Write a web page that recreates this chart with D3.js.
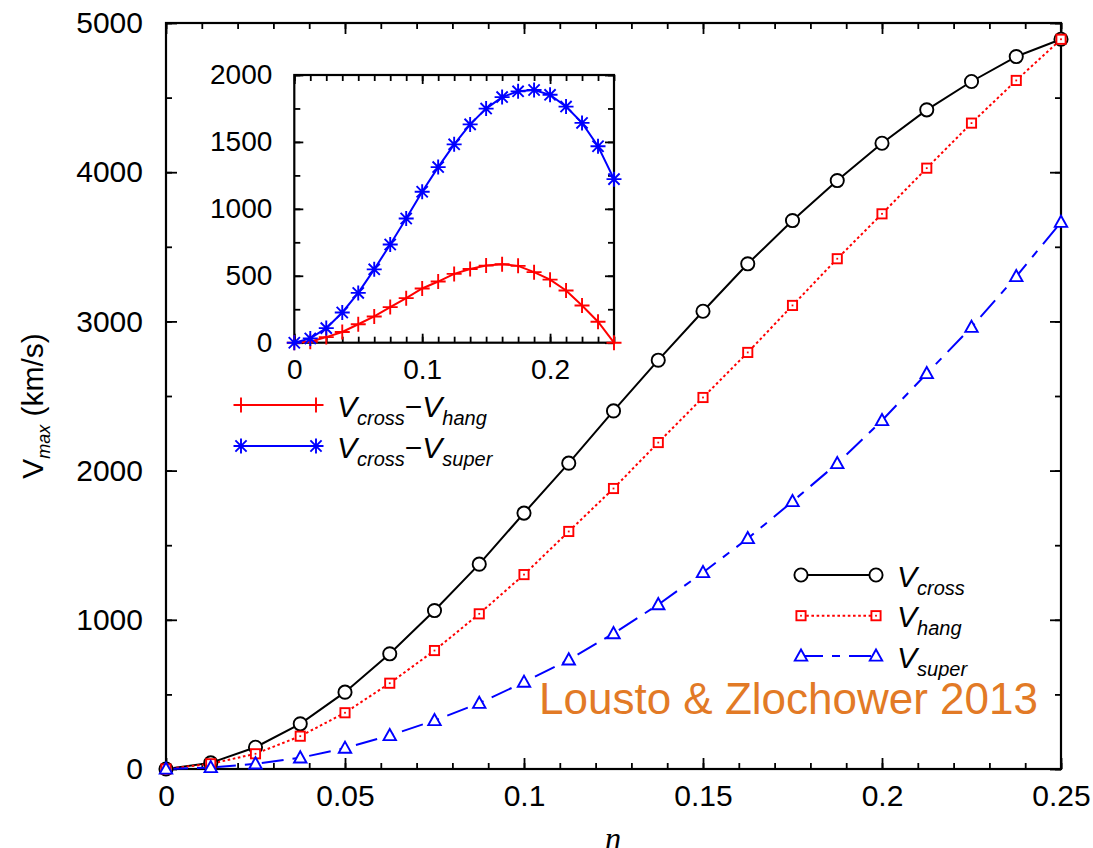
<!DOCTYPE html>
<html>
<head>
<meta charset="utf-8">
<script src="https://cdn.jsdelivr.net/npm/d3@7/dist/d3.min.js"></script>
<style>
  html, body { margin: 0; padding: 0; background: #fff; }
  svg { display: block; font-family: "Liberation Sans", Arial, Helvetica, sans-serif; }
</style>
</head>
<body>
<svg id="chart" width="1093" height="848"></svg>
<script>
// Mass ratio eta for every evaluated configuration
const eta = [0, 0.0125, 0.025, 0.0375, 0.05, 0.0625, 0.075, 0.0875, 0.1, 0.1125, 0.125,
             0.1375, 0.15, 0.1625, 0.175, 0.1875, 0.2, 0.2125, 0.225, 0.2375, 0.25];

// Maximum recoil (km/s) for the three spin configurations
const vCross = [0, 41, 146, 303, 515, 772, 1062, 1373, 1715, 2050, 2400,
                2740, 3068, 3386, 3676, 3944, 4194, 4418, 4608, 4775, 4891];
const vHang  = [0, 35, 102, 220, 377, 575, 794, 1040, 1303, 1592, 1880,
                2188, 2490, 2792, 3107, 3420, 3721, 4027, 4329, 4615, 4891];
const vSuper = [0, 10, 35, 75, 140, 225, 325, 441, 582, 732, 908,
                1102, 1317, 1545, 1793, 2048, 2336, 2651, 2961, 3301, 3665];

// Differences shown in the inset
const dCrossHang  = [0, 7, 42, 80, 138, 196, 266, 333, 405, 457, 514,
                     551, 576, 586, 574, 527, 471, 390, 278, 157, 0];
const dCrossSuper = [0, 32, 109, 226, 372, 548, 734, 928, 1128, 1312, 1482,
                     1631, 1749, 1835, 1878, 1888, 1852, 1764, 1642, 1468, 1222];

// Tick values
const mainXTicks = [0, 0.05, 0.1, 0.15, 0.2, 0.25];
const mainXTickLabels = ["0", "0.05", "0.1", "0.15", "0.2", "0.25"];
const mainYTicks = [0, 1000, 2000, 3000, 4000, 5000];
const insetXTicks = [0, 0.1, 0.2];
const insetXTickLabels = ["0", "0.1", "0.2"];
const insetYTicks = [0, 500, 1000, 1500, 2000];

const svg = d3.select("#chart");

// ---------- main panel ----------
const M = { left: 166, right: 1061, top: 23, bottom: 769 };
const x = d3.scaleLinear().domain([0, 0.25]).range([M.left, M.right]);
const y = d3.scaleLinear().domain([0, 5000]).range([M.bottom, M.top]);

function frameAxes(g, xs, ys, opt) {
  const xr = xs.range(), yr = ys.range();
  const minorX = d3.range(0, 0.2500001, opt.xMinorStep).map(v => +v.toFixed(5));
  const minorY = d3.range(0, ys.domain()[1] + 1e-6, opt.yMinorStep);
  const fmtX = (d, i) => opt.xLabels[opt.xTicks.indexOf(d)];
  // bottom
  g.append("g").attr("transform", `translate(0,${yr[0]})`)
    .call(d3.axisBottom(xs).tickValues(minorX).tickSize(-opt.minor).tickFormat(""));
  g.append("g").attr("transform", `translate(0,${yr[0]})`)
    .call(d3.axisBottom(xs).tickValues(opt.xTicks).tickSize(-opt.major).tickPadding(opt.xPad).tickFormat(fmtX));
  // top
  g.append("g").attr("transform", `translate(0,${yr[1]})`)
    .call(d3.axisTop(xs).tickValues(minorX).tickSize(-opt.minor).tickFormat(""));
  g.append("g").attr("transform", `translate(0,${yr[1]})`)
    .call(d3.axisTop(xs).tickValues(opt.xTicks).tickSize(-opt.major).tickFormat(""));
  // left
  g.append("g").attr("transform", `translate(${xr[0]},0)`)
    .call(d3.axisLeft(ys).tickValues(minorY).tickSize(-opt.minor).tickFormat(""));
  g.append("g").attr("transform", `translate(${xr[0]},0)`)
    .call(d3.axisLeft(ys).tickValues(opt.yTicks).tickSize(-opt.major).tickPadding(opt.yPad).tickFormat(d3.format("d")));
  // right
  g.append("g").attr("transform", `translate(${xr[1]},0)`)
    .call(d3.axisRight(ys).tickValues(minorY).tickSize(-opt.minor).tickFormat(""));
  g.append("g").attr("transform", `translate(${xr[1]},0)`)
    .call(d3.axisRight(ys).tickValues(opt.yTicks).tickSize(-opt.major).tickFormat(""));

  g.selectAll(".domain").remove();
  g.selectAll(".tick line").attr("stroke", "#000").attr("stroke-width", 1.8);
  g.selectAll(".tick text").attr("fill", "#000").attr("font-size", opt.fontSize)
    .attr("font-family", "Liberation Sans, Arial, sans-serif");
  g.append("rect").attr("x", xr[0]).attr("y", yr[1])
    .attr("width", xr[1] - xr[0]).attr("height", yr[0] - yr[1])
    .attr("fill", "none").attr("stroke", "#000").attr("stroke-width", 2.2);
}

const mainG = svg.append("g");
frameAxes(mainG, x, y, {
  xMinorStep: 0.01, yMinorStep: 500, major: 11, minor: 6,
  xTicks: mainXTicks, xLabels: mainXTickLabels, yTicks: mainYTicks,
  xPad: 16, yPad: 23, fontSize: 30
});

// ---------- markers ----------
function circleMark(g, cx, cy) {
  g.append("circle").attr("cx", cx).attr("cy", cy).attr("r", 6.6)
    .attr("fill", "#fff").attr("stroke", "#000").attr("stroke-width", 1.9);
}
function squareMark(g, cx, cy) {
  g.append("rect").attr("x", cx - 4.6).attr("y", cy - 4.6).attr("width", 9.2).attr("height", 9.2)
    .attr("fill", "#fff").attr("stroke", "#f00").attr("stroke-width", 1.9);
  g.append("rect").attr("x", cx - 0.9).attr("y", cy - 0.9).attr("width", 1.8).attr("height", 1.8)
    .attr("fill", "#f00");
}
function triangleMark(g, cx, cy) {
  const s = 6.2;
  g.append("path")
    .attr("d", `M${cx},${cy - s * 1.05}L${cx + s},${cy + s * 0.75}L${cx - s},${cy + s * 0.75}Z`)
    .attr("fill", "#fff").attr("stroke", "#00f").attr("stroke-width", 1.9);
}
function plusMark(g, cx, cy, col) {
  const s = 7.5;
  g.append("path").attr("d", `M${cx - s},${cy}H${cx + s}M${cx},${cy - s}V${cy + s}`)
    .attr("stroke", col).attr("stroke-width", 1.9).attr("fill", "none");
}
function starMark(g, cx, cy, col) {
  const s = 7.5, d = 5.6;
  g.append("path")
    .attr("d", `M${cx - s},${cy}H${cx + s}M${cx},${cy - s}V${cy + s}` +
               `M${cx - d},${cy - d}L${cx + d},${cy + d}M${cx - d},${cy + d}L${cx + d},${cy - d}`)
    .attr("stroke", col).attr("stroke-width", 1.9).attr("fill", "none");
}

// ---------- main series ----------
const mainSeries = [
  { vals: vCross, color: "#000", dash: null, mark: circleMark },
  { vals: vHang, color: "#f00", dash: "2.6,2.6", mark: squareMark },
  { vals: vSuper, color: "#00f", dash: "22,9,8,9", mark: triangleMark }
];
const mainLine = d3.line().x(d => x(d[0])).y(d => y(d[1]));
mainSeries.forEach(s => {
  const pts = eta.map((e, i) => [e, s.vals[i]]);
  mainG.append("path").attr("d", mainLine(pts)).attr("fill", "none")
    .attr("stroke", s.color).attr("stroke-width", 2)
    .attr("stroke-dasharray", s.dash);
});
mainSeries.forEach(s => {
  const g = mainG.append("g");
  eta.forEach((e, i) => s.mark(g, x(e), y(s.vals[i])));
});

// ---------- main legend ----------
const legendRows = [
  { label: "cross", color: "#000", dash: null, mark: circleMark, ly: 575 },
  { label: "hang", color: "#f00", dash: "2.6,2.6", mark: squareMark, ly: 615.7 },
  { label: "super", color: "#00f", dash: "22,9,8,9", mark: triangleMark, ly: 656 }
];
legendRows.forEach(r => {
  const g = svg.append("g");
  g.append("line").attr("x1", 801).attr("x2", 876).attr("y1", r.ly).attr("y2", r.ly)
    .attr("stroke", r.color).attr("stroke-width", 2).attr("stroke-dasharray", r.dash);
  r.mark(g, 801, r.ly);
  r.mark(g, 876, r.ly);
  const t = g.append("text").attr("x", 897).attr("y", r.ly + 11.5)
    .attr("font-size", 30).attr("font-style", "italic").attr("fill", "#000");
  t.append("tspan").text("V");
  t.append("tspan").attr("font-size", 20).attr("dy", 8).text(r.label);
});

// ---------- attribution ----------
svg.append("text").attr("x", 539).attr("y", 714).attr("font-size", 44)
  .attr("fill", "#e27a26").attr("font-weight", 300)
  .text("Lousto & Zlochower 2013");

// ---------- axis titles ----------
svg.append("text").attr("x", 613).attr("y", 849).attr("text-anchor", "middle")
  .attr("font-family", "Liberation Serif, Times New Roman, serif")
  .attr("font-style", "italic").attr("font-size", 32).text("η");

const yTitle = svg.append("text")
  .attr("transform", "translate(43,406) rotate(-90)")
  .attr("text-anchor", "middle").attr("font-size", 30).attr("fill", "#000");
yTitle.append("tspan").text("V");
yTitle.append("tspan").attr("font-size", 18).attr("font-style", "italic").attr("dy", 7).text("max");
yTitle.append("tspan").attr("dy", -7).text(" (km/s)");

// ---------- inset ----------
const xi = d3.scaleLinear().domain([0, 0.25]).range([294.3, 614]);
const yi = d3.scaleLinear().domain([0, 2000]).range([342.7, 75]);
const insetG = svg.append("g");
insetG.append("rect").attr("x", 294.3).attr("y", 75).attr("width", 614 - 294.3)
  .attr("height", 342.7 - 75).attr("fill", "#fff");
frameAxes(insetG, xi, yi, {
  xMinorStep: 0.0125, yMinorStep: 250, major: 9, minor: 6,
  xTicks: insetXTicks, xLabels: insetXTickLabels, yTicks: insetYTicks,
  xPad: 16, yPad: 22, fontSize: 28
});

const insetSeries = [
  { vals: dCrossHang, color: "#f00", mark: plusMark },
  { vals: dCrossSuper, color: "#00f", mark: starMark }
];
const insetLine = d3.line().x(d => xi(d[0])).y(d => yi(d[1]));
insetSeries.forEach(s => {
  const pts = eta.map((e, i) => [e, s.vals[i]]);
  insetG.append("path").attr("d", insetLine(pts)).attr("fill", "none")
    .attr("stroke", s.color).attr("stroke-width", 2);
  const g = insetG.append("g");
  eta.forEach((e, i) => s.mark(g, xi(e), yi(s.vals[i]), s.color));
});

// ---------- inset legend ----------
const insetLegend = [
  { sub2: "hang", color: "#f00", mark: plusMark, ly: 405 },
  { sub2: "super", color: "#00f", mark: starMark, ly: 446 }
];
insetLegend.forEach(r => {
  const g = svg.append("g");
  g.append("line").attr("x1", 241).attr("x2", 316).attr("y1", r.ly).attr("y2", r.ly)
    .attr("stroke", r.color).attr("stroke-width", 2);
  r.mark(g, 241, r.ly, r.color);
  r.mark(g, 316, r.ly, r.color);
  const t = g.append("text").attr("x", 337).attr("y", r.ly + 11.5)
    .attr("font-size", 30).attr("fill", "#000");
  t.append("tspan").attr("font-style", "italic").text("V");
  t.append("tspan").attr("font-style", "italic").attr("font-size", 20).attr("dy", 8).text("cross");
  t.append("tspan").attr("dy", -8).text("\u2212");
  t.append("tspan").attr("font-style", "italic").text("V");
  t.append("tspan").attr("font-style", "italic").attr("font-size", 20).attr("dy", 8).text(r.sub2);
});
</script>
</body>
</html>
